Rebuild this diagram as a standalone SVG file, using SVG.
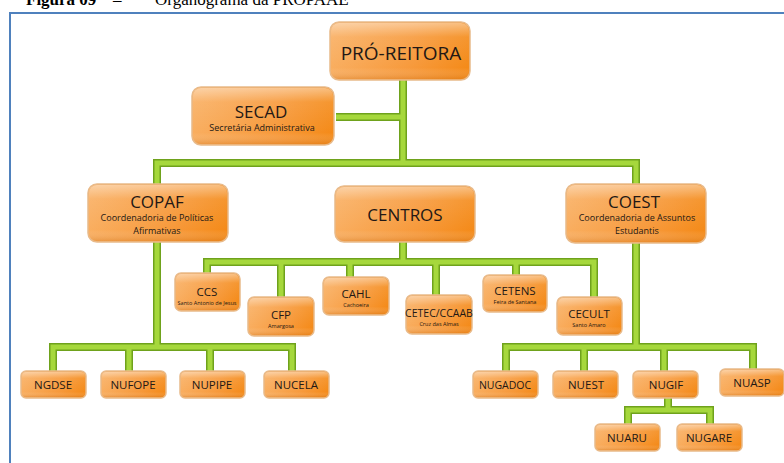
<svg xmlns="http://www.w3.org/2000/svg" width="784" height="463" viewBox="0 0 784 463">
<defs>
<linearGradient id="og" x1="0" y1="0" x2="1" y2="0">
<stop offset="0" stop-color="#f9ae60"/>
<stop offset="0.6" stop-color="#f7993a"/>
<stop offset="1" stop-color="#f48a18"/>
</linearGradient>
<linearGradient id="hl" x1="0" y1="0" x2="0" y2="1">
<stop offset="0" stop-color="#ffffff" stop-opacity="0.45"/>
<stop offset="0.25" stop-color="#ffffff" stop-opacity="0.1"/>
<stop offset="0.8" stop-color="#ffffff" stop-opacity="0"/>
<stop offset="1" stop-color="#c86a10" stop-opacity="0.3"/>
</linearGradient>
</defs>
<style>
.cap{font-family:"Liberation Serif","Times New Roman",serif;font-size:17px;fill:#000}
.frame{fill:none;stroke:#4f81bd;stroke-width:2}
.box{fill:url(#og);stroke:#e8ba8a;stroke-width:1.5}
.hi{fill:url(#hl)}
.t{font-family:"Open Sans","Noto Sans",sans-serif;fill:#231815;text-anchor:middle}
.big{font-size:17px}
.sm{font-size:9px}
.xs{font-size:5.5px}
.lb{font-size:11.5px}
.co{fill:none;stroke:#6fa21c;stroke-width:8;stroke-linejoin:miter}
.ci{fill:none;stroke:#a6d83c;stroke-width:5;stroke-linejoin:miter}
</style>
<rect width="784" height="463" fill="#ffffff"/>
<text class="cap" x="26" y="5"><tspan font-weight="bold">Figura 09</tspan></text>
<text class="cap" x="113" y="5">–</text>
<text class="cap" x="155" y="5">Organograma da PROPAAE</text>
<path class="frame" d="M10 463 V13 H784"/>

<g id="connectors">
<path class="co" d="M403 80 V163 M336 117 H403 M157 184 V163 H636 V184"/>
<path class="ci" d="M403 80 V163 M336 117 H403 M157 184 V163 H636 V184"/>
<path class="co" d="M403 242 V262 M207 273 V262 H594 V297 M281 297 V262 M350 277 V262 M436 295 V262 M516 275 V262"/>
<path class="ci" d="M403 242 V262 M207 273 V262 H594 V297 M281 297 V262 M350 277 V262 M436 295 V262 M516 275 V262"/>
<path class="co" d="M157 242 V347 M53 371 V347 H292 V371 M129 371 V347 M210 371 V347"/>
<path class="ci" d="M157 242 V347 M53 371 V347 H292 V371 M129 371 V347 M210 371 V347"/>
<path class="co" d="M636 243 V347 M506 371 V347 H753 V369 M584 371 V347 M664 371 V347"/>
<path class="ci" d="M636 243 V347 M506 371 V347 H753 V369 M584 371 V347 M664 371 V347"/>
<path class="co" d="M668 398 V410 M628 424 V410 H710 V424"/>
<path class="ci" d="M668 398 V410 M628 424 V410 H710 V424"/>
</g>

<g id="pro-reitora">
<rect class="box" x="330" y="22" width="140" height="58" rx="9"/>
<rect class="hi" x="331" y="23" width="138" height="56" rx="8"/>
<text class="t" x="401" y="60" font-size="19">PRÓ-REITORA</text>
</g>
<g id="secad">
<rect class="box" x="192" y="87" width="142" height="58" rx="9"/>
<rect class="hi" x="193" y="88" width="140" height="56" rx="8"/>
<text class="t big" x="261" y="118">SECAD</text>
<text class="t sm" x="262" y="131">Secretária Administrativa</text>
</g>
<g id="copaf">
<rect class="box" x="88" y="184" width="140" height="58" rx="9"/>
<rect class="hi" x="89" y="185" width="138" height="56" rx="8"/>
<text class="t big" x="157" y="208">COPAF</text>
<text class="t sm" x="157" y="221">Coordenadoria de Políticas</text>
<text class="t sm" x="157" y="234">Afirmativas</text>
</g>
<g id="centros">
<rect class="box" x="335" y="186" width="140" height="56" rx="9"/>
<rect class="hi" x="336" y="187" width="138" height="54" rx="8"/>
<text class="t big" x="405" y="221">CENTROS</text>
</g>
<g id="coest">
<rect class="box" x="566" y="184" width="140" height="59" rx="9"/>
<rect class="hi" x="567" y="185" width="138" height="57" rx="8"/>
<text class="t big" x="634" y="208">COEST</text>
<text class="t sm" x="637" y="221">Coordenadoria de Assuntos</text>
<text class="t sm" x="637" y="234">Estudantis</text>
</g>

<g id="ccs">
<rect class="box" x="175" y="273" width="65" height="38" rx="6"/>
<rect class="hi" x="176" y="274" width="63" height="36" rx="5"/>
<text class="t lb" x="207" y="296">CCS</text>
<text class="t xs" x="207" y="305">Santo Antonio de Jesus</text>
</g>
<g id="cfp">
<rect class="box" x="248" y="297" width="66" height="39" rx="6"/>
<rect class="hi" x="249" y="298" width="64" height="37" rx="5"/>
<text class="t lb" x="281" y="319">CFP</text>
<text class="t xs" x="281" y="328">Amargosa</text>
</g>
<g id="cahl">
<rect class="box" x="323" y="277" width="66" height="38" rx="6"/>
<rect class="hi" x="324" y="278" width="64" height="36" rx="5"/>
<text class="t lb" x="356" y="298">CAHL</text>
<text class="t xs" x="356" y="307">Cachoeira</text>
</g>
<g id="cetec">
<rect class="box" x="406" y="295" width="66" height="39" rx="6"/>
<rect class="hi" x="407" y="296" width="64" height="37" rx="5"/>
<text class="t" x="439" y="317" font-size="10.5">CETEC/CCAAB</text>
<text class="t xs" x="439" y="326">Cruz das Almas</text>
</g>
<g id="cetens">
<rect class="box" x="483" y="275" width="64" height="37" rx="6"/>
<rect class="hi" x="484" y="276" width="62" height="35" rx="5"/>
<text class="t lb" x="515" y="295">CETENS</text>
<text class="t xs" x="515" y="304">Feira de Santana</text>
</g>
<g id="cecult">
<rect class="box" x="557" y="297" width="65" height="38" rx="6"/>
<rect class="hi" x="558" y="298" width="63" height="36" rx="5"/>
<text class="t lb" x="589" y="318">CECULT</text>
<text class="t xs" x="589" y="327">Santo Amaro</text>
</g>

<g id="ngdse">
<rect class="box" x="21" y="371" width="65" height="27" rx="5"/>
<rect class="hi" x="22" y="372" width="63" height="25" rx="4"/>
<text class="t lb" x="53" y="389">NGDSE</text>
</g>
<g id="nufope">
<rect class="box" x="101" y="371" width="65" height="27" rx="5"/>
<rect class="hi" x="102" y="372" width="63" height="25" rx="4"/>
<text class="t lb" x="133" y="389">NUFOPE</text>
</g>
<g id="nupipe">
<rect class="box" x="180" y="371" width="65" height="27" rx="5"/>
<rect class="hi" x="181" y="372" width="63" height="25" rx="4"/>
<text class="t lb" x="212" y="389">NUPIPE</text>
</g>
<g id="nucela">
<rect class="box" x="264" y="371" width="65" height="27" rx="5"/>
<rect class="hi" x="265" y="372" width="63" height="25" rx="4"/>
<text class="t lb" x="296" y="389">NUCELA</text>
</g>

<g id="nugadoc">
<rect class="box" x="473" y="371" width="65" height="27" rx="5"/>
<rect class="hi" x="474" y="372" width="63" height="25" rx="4"/>
<text class="t" x="505" y="389" font-size="10.5">NUGADOC</text>
</g>
<g id="nuest">
<rect class="box" x="553" y="371" width="65" height="27" rx="5"/>
<rect class="hi" x="554" y="372" width="63" height="25" rx="4"/>
<text class="t lb" x="586" y="389">NUEST</text>
</g>
<g id="nugif">
<rect class="box" x="633" y="371" width="65" height="27" rx="5"/>
<rect class="hi" x="634" y="372" width="63" height="25" rx="4"/>
<text class="t lb" x="666" y="389">NUGIF</text>
</g>
<g id="nuasp">
<rect class="box" x="720" y="369" width="64" height="27" rx="5"/>
<rect class="hi" x="721" y="370" width="62" height="25" rx="4"/>
<text class="t lb" x="752" y="387">NUASP</text>
</g>
<g id="nuaru">
<rect class="box" x="595" y="424" width="65" height="27" rx="5"/>
<rect class="hi" x="596" y="425" width="63" height="25" rx="4"/>
<text class="t lb" x="627" y="442">NUARU</text>
</g>
<g id="nugare">
<rect class="box" x="677" y="424" width="65" height="27" rx="5"/>
<rect class="hi" x="678" y="425" width="63" height="25" rx="4"/>
<text class="t lb" x="709" y="442">NUGARE</text>
</g>
</svg>
